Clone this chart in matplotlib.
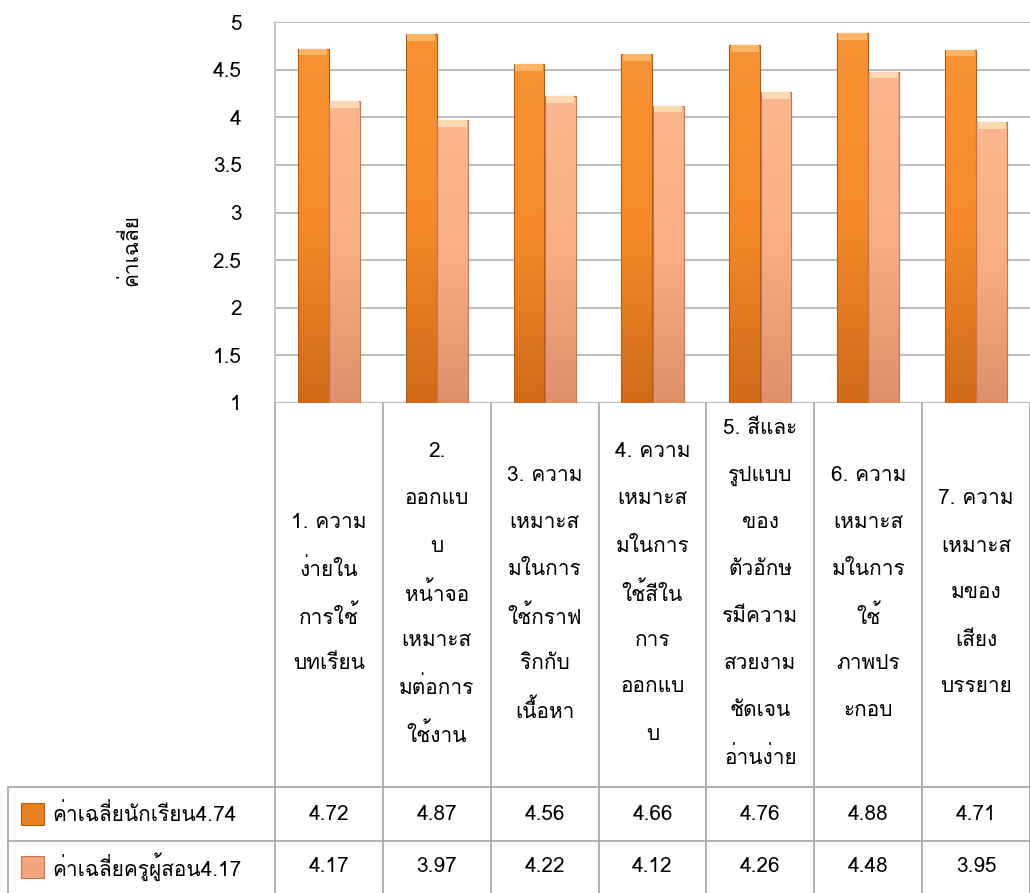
# กราฟแท่งเปรียบเทียบค่าเฉลี่ย นักเรียน / ครูผู้สอน พร้อมตารางข้อมูลด้านล่าง

import matplotlib
matplotlib.use('Agg')
import matplotlib.pyplot as plt
import numpy as np
from matplotlib import font_manager, ft2font
from matplotlib.colors import LinearSegmentedColormap
from matplotlib.patches import Rectangle

# ---- ข้อมูล ----
categories = [
    "1. ความ\nง่ายใน\nการใช้\nบทเรียน",
    "2.\nออกแบ\nบ\nหน้าจอ\nเหมาะส\nมต่อการ\nใช้งาน",
    "3. ความ\nเหมาะส\nมในการ\nใช้กราฟ\nริกกับ\nเนื้อหา",
    "4. ความ\nเหมาะส\nมในการ\nใช้สีใน\nการ\nออกแบ\nบ",
    "5. สีและ\nรูปแบบ\nของ\nตัวอักษ\nรมีความ\nสวยงาม\nชัดเจน\nอ่านง่าย",
    "6. ความ\nเหมาะส\nมในการ\nใช้\nภาพปร\nะกอบ",
    "7. ความ\nเหมาะส\nมของ\nเสียง\nบรรยาย",
]
students = [4.72, 4.87, 4.56, 4.66, 4.76, 4.88, 4.71]
teachers = [4.17, 3.97, 4.22, 4.12, 4.26, 4.48, 3.95]
series_names = ["ค่าเฉลี่ยนักเรียน4.74", "ค่าเฉลี่ยครูผู้สอน4.17"]
y_label = "ค่าเฉลี่ย"
y_ticks = [1, 1.5, 2, 2.5, 3, 3.5, 4, 4.5, 5]

# ---- หาฟอนต์ที่มีอักษรไทย ----
thai_font = None
for f in font_manager.fontManager.ttflist:
    try:
        cmap_chars = ft2font.FT2Font(f.fname).get_charmap()
    except Exception:
        continue
    if 0x0E04 in cmap_chars and 0x0E32 in cmap_chars:
        thai_font = f.name
        break
families = [thai_font, 'DejaVu Sans'] if thai_font else ['DejaVu Sans']
plt.rcParams['font.family'] = families

W, H = 1030, 893
fig = plt.figure(figsize=(W / 100, H / 100), dpi=100)

# แกนกราฟแท่ง (พิกัดพิกเซล: ซ้าย 275, บน 22, ล่าง 403)
ax = fig.add_axes([275 / W, (H - 403) / H, 755 / W, (403 - 22) / H])
x = np.arange(len(categories))
bw = 0.285
off = 0.145

orange = LinearSegmentedColormap.from_list('o', ['#D06A18', '#F68A2A', '#F89234'])
peach = LinearSegmentedColormap.from_list('p', ['#DF8F6A', '#F9AD82', '#FDB78E'])
grad = np.linspace(0, 1, 256).reshape(-1, 1)

def draw_bars(vals, dx, cm, edge, cap):
    bars = ax.bar(x + dx, vals, width=bw, color='none', edgecolor=edge, linewidth=0.8, zorder=3)
    for b in bars:
        x0, w, h = b.get_x(), b.get_width(), b.get_height()
        im = ax.imshow(grad, extent=[x0, x0 + w, 1, h], origin='lower', aspect='auto',
                       cmap=cm, zorder=2)
        im.set_clip_path(b)
    # highlight at the top of each bar
    ax.bar(x + dx, 0.07, bottom=np.array(vals) - 0.07, width=bw * 0.92,
           color=cap, linewidth=0, zorder=4)
    return bars

draw_bars(students, -off, orange, '#B55A12', '#FBB565')
draw_bars(teachers, off, peach, '#C07850', '#FFD9B2')

ax.set_xlim(-0.5, len(categories) - 0.5)
ax.set_ylim(1, 5)
ax.set_yticks(y_ticks)
ax.set_yticklabels([f"{t:g}" for t in y_ticks], fontsize=15)
ax.set_xticks([])
ax.tick_params(axis='y', length=0, pad=24)
ax.yaxis.grid(True, color='#BEBEBE', linewidth=1.5, zorder=0)
ax.set_axisbelow(True)
for s in ['top', 'right', 'bottom']:
    ax.spines[s].set_visible(False)
ax.spines['left'].set_color('#BEBEBE')
ax.spines['left'].set_linewidth(1.2)

fig.text(130 / W, 1 - 250 / H, y_label, rotation=90, fontsize=15,
         ha='center', va='center')

# ---- ตารางข้อมูลด้านล่าง (หน่วย y เป็นพิกเซลนับจากขอบล่างกราฟ) ----
tb = fig.add_axes([275 / W, 0, 755 / W, (H - 403) / H])
tb.set_xlim(-0.5, len(categories) - 0.5)
tb.set_ylim(H - 403, 0)
tb.axis('off')

grid_c = '#A6A6A6'
left_x = -0.5 - 267 / 107.9
for k in range(len(categories) + 1):
    tb.plot([k - 0.5, k - 0.5], [0, H - 403], color=grid_c, lw=1.2, clip_on=False)
for yy in (384, 438):
    tb.plot([left_x, len(categories) - 0.5], [yy, yy], color=grid_c, lw=1.2, clip_on=False)
tb.plot([left_x, left_x], [384, H - 403], color=grid_c, lw=1.2, clip_on=False)

line_gap = 47
for i, cat in enumerate(categories):
    lines = cat.split("\n")
    n = len(lines)
    for j, ln in enumerate(lines):
        tb.text(i, 190 + (j - (n - 1) / 2) * line_gap, ln, fontsize=15,
                ha='center', va='center')

row_y = [411, 464]
sq_colors = [('#E8801F', '#B55A12'), ('#F5A57C', '#C07850')]
for r, (vals, name) in enumerate(zip([students, teachers], series_names)):
    for i, v in enumerate(vals):
        tb.text(i, row_y[r], f"{v:.2f}", fontsize=15, ha='center', va='center')
    tb.add_patch(Rectangle((left_x + 13 / 107.9, row_y[r] - 11), 23 / 107.9, 22,
                           facecolor=sq_colors[r][0], edgecolor=sq_colors[r][1],
                           lw=0.8, clip_on=False))
    tb.text(left_x + 44 / 107.9, row_y[r], name, fontsize=15, ha='left', va='center',
            clip_on=False)

plt.savefig('out.png', dpi=100)
